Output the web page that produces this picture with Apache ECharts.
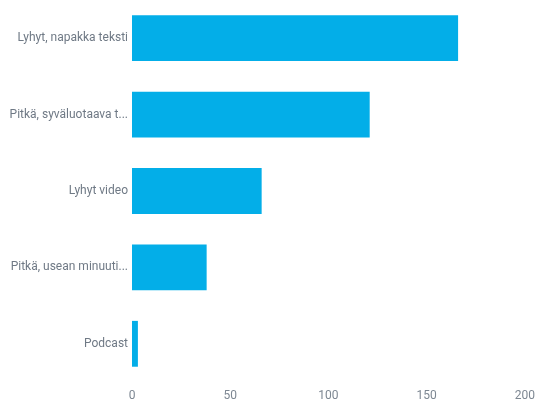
<!DOCTYPE html>
<html><head><meta charset="utf-8">
<script src="https://cdn.jsdelivr.net/npm/echarts@6/dist/echarts.min.js"></script>
<style>html,body{margin:0;padding:0;background:#fff}#c{width:538px;height:403px}</style>
</head><body><div id="c"></div>
<script>
const categories = ["Lyhyt, napakka teksti", "Pitkä, syväluotaava t...", "Lyhyt video", "Pitkä, usean minuuti...", "Podcast"];
const values = [166, 121, 66, 38, 3];
const xTicks = [0, 50, 100, 150, 200];

const chart = echarts.init(document.getElementById('c'));
chart.setOption({
  animation: false,
  grid: { left: 132, right: 12, top: -4, bottom: 21, containLabel: false },
  xAxis: {
    type: 'value', min: xTicks[0], max: xTicks[xTicks.length - 1], interval: xTicks[1] - xTicks[0],
    axisLine: { show: false }, axisTick: { show: false }, splitLine: { show: false },
    axisLabel: { color: '#7d8792', fontSize: 12, fontFamily: 'Roboto', margin: 8 }
  },
  yAxis: {
    type: 'category', inverse: true, data: categories,
    axisLine: { show: false }, axisTick: { show: false },
    axisLabel: { color: '#6f7985', fontSize: 12, fontFamily: 'Roboto', margin: 4 }
  },
  series: [{
    type: 'bar', data: values, barCategoryGap: '40%',
    itemStyle: { color: '#03aee8' }
  }]
});
</script></body></html>
